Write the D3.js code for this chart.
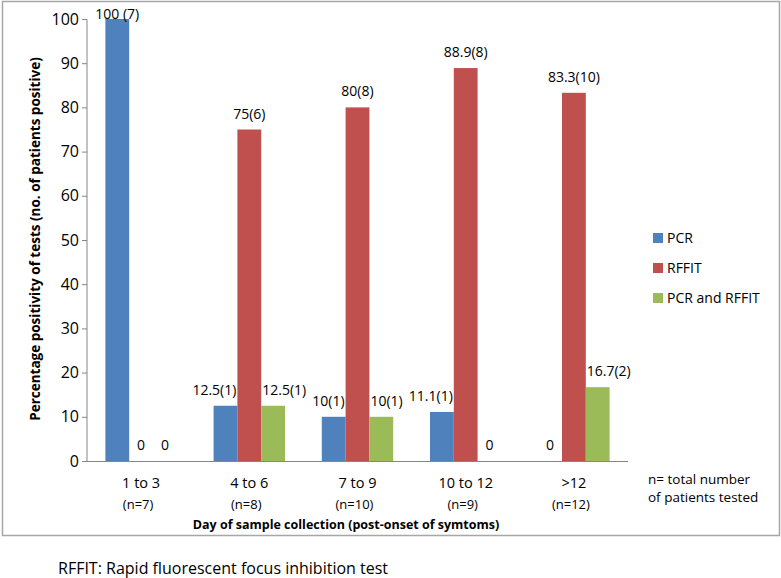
<!DOCTYPE html>
<html><head><meta charset="utf-8">
<script src="https://cdn.jsdelivr.net/npm/d3@7"></script>
<style>body{margin:0;background:#fff}svg{display:block}text{font-family:"Open Sans",sans-serif;fill:#000}</style>
</head><body>
<script>
const categories = ["1 to 3", "4 to 6", "7 to 9", "10 to 12", ">12"];
const nLabels = ["(n=7)", "(n=8)", "(n=10)", "(n=9)", "(n=12)"];
const seriesNames = ["PCR", "RFFIT", "PCR and RFFIT"];
const pcr = [100, 12.5, 10, 11.1, 0];
const rffit = [0, 75, 80, 88.9, 83.3];
const both = [0, 12.5, 10, 0, 16.7];
const pcrLabels = ["100 (7)", "12.5(1)", "10(1)", "11.1(1)", "0"];
const rffitLabels = ["0", "75(6)", "80(8)", "88.9(8)", "83.3(10)"];
const bothLabels = ["0", "12.5(1)", "10(1)", "0", "16.7(2)"];
const yTicks = [0, 10, 20, 30, 40, 50, 60, 70, 80, 90, 100];
const colors = ["#4F81BD", "#C0504D", "#9BBB59"];

const W = 781, H = 578;
const svg = d3.select("body").append("svg").attr("width", W).attr("height", H);
svg.append("rect").attr("x", 2.5).attr("y", 1.5).attr("width", 777).attr("height", 534)
  .attr("fill", "#fff").attr("stroke", "#a6a6a6").attr("stroke-width", 1.5);

const plot = {left: 87, right: 628, top: 19, bottom: 461};
const x = d3.scaleBand().domain(categories).range([plot.left, plot.right]).paddingInner(0.34).paddingOuter(0.17);
const xs = d3.scaleBand().domain(seriesNames).range([0, x.bandwidth()]);
const y = d3.scaleLinear().domain([0, 100]).range([plot.bottom, plot.top]);

// y axis
const yAxis = d3.axisLeft(y).tickValues(yTicks).tickSize(5).tickPadding(3);
const gy = svg.append("g").attr("transform", `translate(${plot.left},0)`).call(yAxis);
gy.select(".domain").attr("stroke", "#868686").attr("d", `M-5,${plot.top}.5H0V${plot.bottom}`);
gy.selectAll(".tick line").attr("stroke", "#868686");
gy.selectAll(".tick text").style("font-size", "16px").attr("font-family", "Open Sans, sans-serif");

// baseline
svg.append("line").attr("x1", plot.left - 5).attr("x2", plot.right).attr("y1", plot.bottom + 0.5).attr("y2", plot.bottom + 0.5)
  .attr("stroke", "#868686");

const data = [pcr, rffit, both];
const labels = [pcrLabels, rffitLabels, bothLabels];

categories.forEach((c, i) => {
  seriesNames.forEach((s, j) => {
    const v = data[j][i];
    const bx = x(c) + xs(s);
    const bw = xs.bandwidth();
    if (v > 0) {
      svg.append("rect").attr("x", bx).attr("y", y(v)).attr("width", bw).attr("height", y(0) - y(v))
        .attr("fill", colors[j]);
    }
    // side bars next to a taller RFFIT bar get their labels nudged outward
    let tx = bx + bw / 2, anchor = "middle";
    if (v > 0 && j !== 1 && rffit[i] > v) {
      if (j === 0) { tx = bx + bw - 1; anchor = "end"; }
      else { tx = bx + 1; anchor = "start"; }
    }
    const ty = Math.max(y(v) - 11, plot.top);
    svg.append("text").attr("x", tx).attr("y", ty).attr("text-anchor", anchor)
      .style("font-size", "14px").text(labels[j][i]);
  });
  const cx = x(c) + x.bandwidth() / 2;
  svg.append("text").attr("x", cx).attr("y", 488).attr("text-anchor", "middle").style("font-size", "14.5px").text(c);
  svg.append("text").attr("x", cx - 3).attr("y", 509).attr("text-anchor", "middle").style("font-size", "13px").text(nLabels[i]);
});

// axis titles
svg.append("text").attr("x", 346).attr("y", 529).attr("text-anchor", "middle")
  .style("font-size", "12.5px").style("font-weight", "bold").text("Day of sample collection (post-onset of symtoms)");
svg.append("text").attr("transform", `translate(40,239) rotate(-90)`)
  .attr("text-anchor", "middle").style("font-size", "13.5px").style("font-weight", "bold")
  .text("Percentage positivity of tests (no. of patients positive)");

// legend
seriesNames.forEach((s, j) => {
  const ly = 238 + j * 30;
  svg.append("rect").attr("x", 653).attr("y", ly - 5).attr("width", 10).attr("height", 10).attr("fill", colors[j]);
  svg.append("text").attr("x", 667).attr("y", ly + 5).style("font-size", "14px").text(s);
});

// note
svg.append("text").attr("x", 648).attr("y", 484).style("font-size", "13.5px").text("n= total number");
svg.append("text").attr("x", 648).attr("y", 502).style("font-size", "13.5px").text("of patients tested");

svg.append("text").attr("x", 58).attr("y", 574).style("font-size", "16px").text("RFFIT: Rapid fluorescent focus inhibition test");
</script>
</body></html>
